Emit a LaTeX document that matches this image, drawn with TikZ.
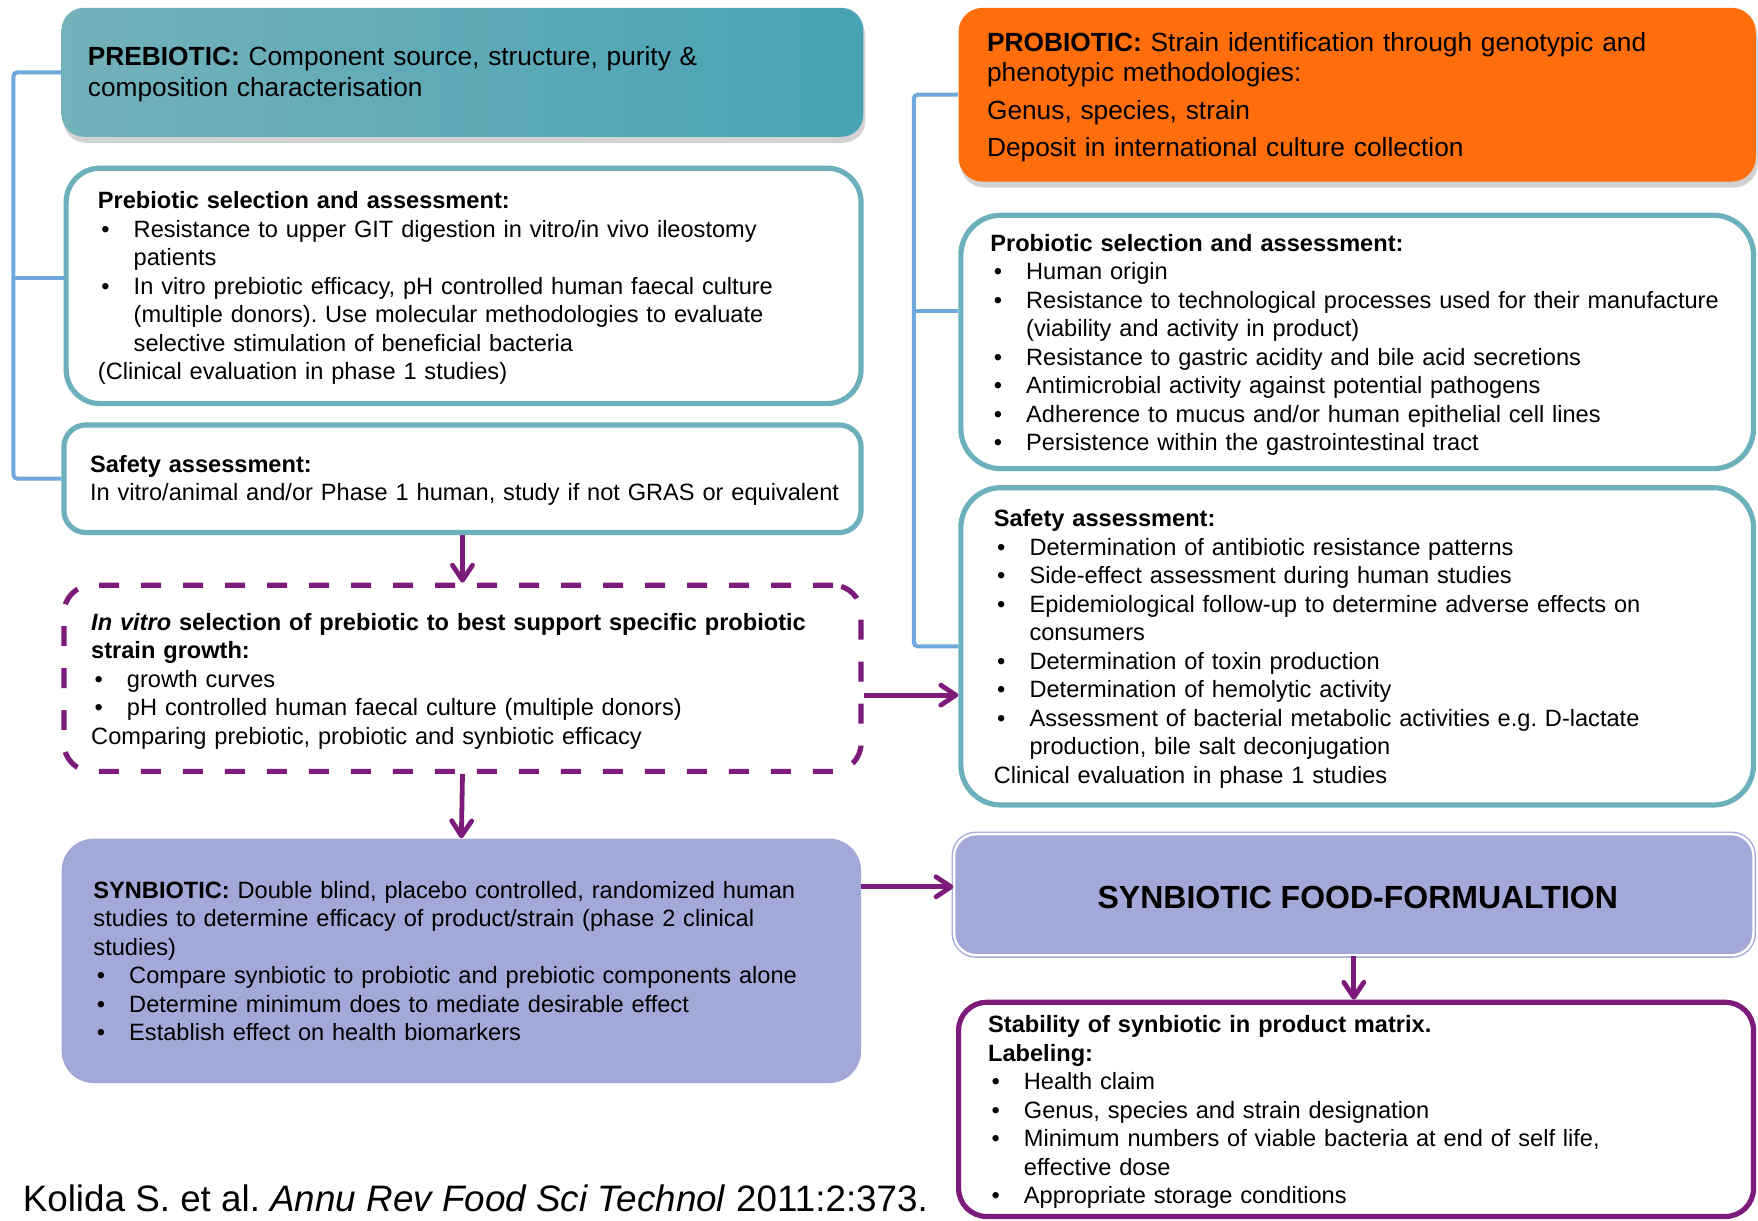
\documentclass[tikz,border=0pt]{standalone}
\usepackage{fontspec}
\setmainfont{Liberation Sans}
\usetikzlibrary{fit,calc,shadows,arrows.meta}
\definecolor{tealc}{HTML}{6CB0BC}
\definecolor{brkc}{HTML}{6FA8DC}
\definecolor{purp}{HTML}{7C1B7A}
\definecolor{lav}{HTML}{A2A8D8}
\definecolor{orng}{HTML}{FF6E0A}
\definecolor{gradl}{HTML}{74B1BA}
\definecolor{gradm}{HTML}{52B3C7}
\definecolor{gradr}{HTML}{48A3B5}
\newcommand\mybul{\makebox[17.9pt][l]{\hspace{1.7pt}•}}
\newcommand\mycont{\hspace*{17.9pt}}
\frenchspacing
\begin{document}
\begin{tikzpicture}[x=0.5606pt,y=-0.5606pt,
  tealbox/.style={draw=tealc, fill=white, line width=2.6pt, inner sep=0pt},
  shad/.style={drop shadow={shadow xshift=1pt, shadow yshift=-3pt, opacity=0.35}},
  txt/.style={anchor=base west, inner sep=0pt, align=left, text width=440pt,
    font=\fontsize{11.8}{14.25}\selectfont},
  ttl/.style={anchor=base west, inner sep=0pt, align=left, text width=440pt,
    font=\fontsize{13.15}{15.8}\selectfont},
  brk/.style={draw=brkc, line width=2pt, rounded corners=2pt},
  arr/.style={draw=purp, line width=2.4pt, -{Straight Barb[length=7.5pt,width=10pt,round]}}]
\useasboundingbox (0,0) rectangle (1568,1089);
\fill[white] (0,0) rectangle (1568,1089);

% ---- left column boxes
\node[fit={(55,7) (770,122)}, inner sep=0pt, rounded corners=11pt, shad,
  left color=gradl, middle color=gradm, right color=gradr] (b1) {};
\node[fit={(59,150) (768,360)}, tealbox, rounded corners=17pt] (b2) {};
\node[fit={(57,379) (768,475)}, tealbox, rounded corners=11pt] (b3) {};
\node[fit={(57,522) (768,688)}, draw=purp, fill=white, line width=2.6pt, inner sep=0pt,
  dash pattern=on 10pt off 11pt, rounded corners=14pt] (b4) {};
\node[fit={(55,748) (768,966)}, fill=lav, inner sep=0pt, rounded corners=16pt] (b5) {};

% ---- right column boxes
\node[fit={(855,7) (1566,162)}, fill=orng, inner sep=0pt, rounded corners=12pt, shad] (r1) {};
\node[fit={(857,192) (1564,418)}, tealbox, rounded corners=20pt] (r2) {};
\node[fit={(857,435) (1564,718)}, tealbox, rounded corners=20pt] (r3) {};
\node[fit={(851,744) (1564,852)}, fill=lav, draw=lav, double=white, double distance=1.2pt,
  line width=0.7pt, inner sep=0pt, rounded corners=11pt] (r4) {};
\node[fit={(855,894) (1564,1085)}, draw=purp, fill=white, line width=2.6pt, inner sep=0pt,
  rounded corners=14pt] (r5) {};

% ---- brackets
\coordinate (lbr) at (12,0);
\coordinate (rbr) at (815,0);
\coordinate (b2t) at ($(b2.west)+(0,-7)$);
\coordinate (r2t) at ($(r2.west)+(0,-28)$);
\draw[brk] (b1.west) -- (b1.west -| lbr) -- (b3.west -| lbr) -- (b3.west);
\draw[brk] (b2t) -- (b2t -| lbr);
\draw[brk] (r1.west) -- (r1.west -| rbr) -- (r3.west -| rbr) -- (r3.west);
\draw[brk] (r2t) -- (r2t -| rbr);

% ---- arrows
\draw[arr] (b3.south) -- (b4.north);
\draw[arr] (b4.south) -- (b5.north);
\coordinate (a3s) at ($(b4.east)+(0,15)$);
\draw[arr] (a3s) -- (a3s -| r3.west);
\coordinate (a4s) at ($(b5.east)+(0,-66)$);
\draw[arr] (a4s) -- (a4s -| r4.west);
\draw[arr] (r4.south) -- (r4.south |- r5.north);

% ---- texts
\node[ttl] (t1) at (78,58) {\textbf{PREBIOTIC:} Component source, structure, purity \&\\composition characterisation};
\node[txt] (t2) at (87,186) {\textbf{Prebiotic selection and assessment:}\\
\mybul Resistance to upper GIT digestion in vitro/in vivo ileostomy\\
\mycont patients\\
\mybul In vitro prebiotic efficacy, pH controlled human faecal culture\\
\mycont (multiple donors). Use molecular methodologies to evaluate\\
\mycont selective stimulation of beneficial bacteria\\
(Clinical evaluation in phase 1 studies)};
\node[txt] (t3) at (80,421) {\textbf{Safety assessment:}\\In vitro/animal and/or Phase 1 human, study if not GRAS or equivalent};
\node[txt] (t4) at (81,562) {{\bfseries\itshape In vitro}{\bfseries\ selection of prebiotic to best support specific probiotic}\\
{\bfseries strain growth:}\\
\mybul growth curves\\
\mybul pH controlled human faecal culture (multiple donors)\\
Comparing prebiotic, probiotic and synbiotic efficacy};
\node[txt] (t5) at (83,801) {\textbf{SYNBIOTIC:} Double blind, placebo controlled, randomized human\\
studies to determine efficacy of product/strain (phase 2 clinical\\
studies)\\
\mybul Compare synbiotic to probiotic and prebiotic components alone\\
\mybul Determine minimum does to mediate desirable effect\\
\mybul Establish effect on health biomarkers};

\node[ttl, font=\fontsize{13.15}{15.1}\selectfont] (u1) at (880,46) {\textbf{PROBIOTIC:} Strain identification through genotypic and\\
phenotypic methodologies:\\[3.6pt]
Genus, species, strain\\[3.4pt]
Deposit in international culture collection};
\node[txt] (u2) at (883,224) {\textbf{Probiotic selection and assessment:}\\
\mybul Human origin\\
\mybul Resistance to technological processes used for their manufacture\\
\mycont (viability and activity in product)\\
\mybul Resistance to gastric acidity and bile acid secretions\\
\mybul Antimicrobial activity against potential pathogens\\
\mybul Adherence to mucus and/or human epithelial cell lines\\
\mybul Persistence within the gastrointestinal tract};
\node[txt] (u3) at (886,470) {\textbf{Safety assessment:}\\
\mybul Determination of antibiotic resistance patterns\\
\mybul Side-effect assessment during human studies\\
\mybul Epidemiological follow-up to determine adverse effects on\\
\mycont consumers\\
\mybul Determination of toxin production\\
\mybul Determination of hemolytic activity\\
\mybul Assessment of bacterial metabolic activities e.g. D-lactate\\
\mycont production, bile salt deconjugation\\
Clinical evaluation in phase 1 studies};
\node[anchor=base, inner sep=0pt, font=\fontsize{16}{19}\selectfont\bfseries] (u4) at (1211,810) {SYNBIOTIC FOOD-FORMUALTION};
\node[txt] (u5) at (881,921) {\textbf{Stability of synbiotic in product matrix.}\\
\textbf{Labeling:}\\
\mybul Health claim\\
\mybul Genus, species and strain designation\\
\mybul Minimum numbers of viable bacteria at end of self life,\\
\mycont effective dose\\
\mybul Appropriate storage conditions};

\node[anchor=base west, inner sep=0pt, font=\fontsize{18.4}{22}\selectfont] (cite) at (20,1081)
  {Kolida S. et al. \textit{Annu Rev Food Sci Technol} 2011:2:373.};
\end{tikzpicture}
\end{document}
